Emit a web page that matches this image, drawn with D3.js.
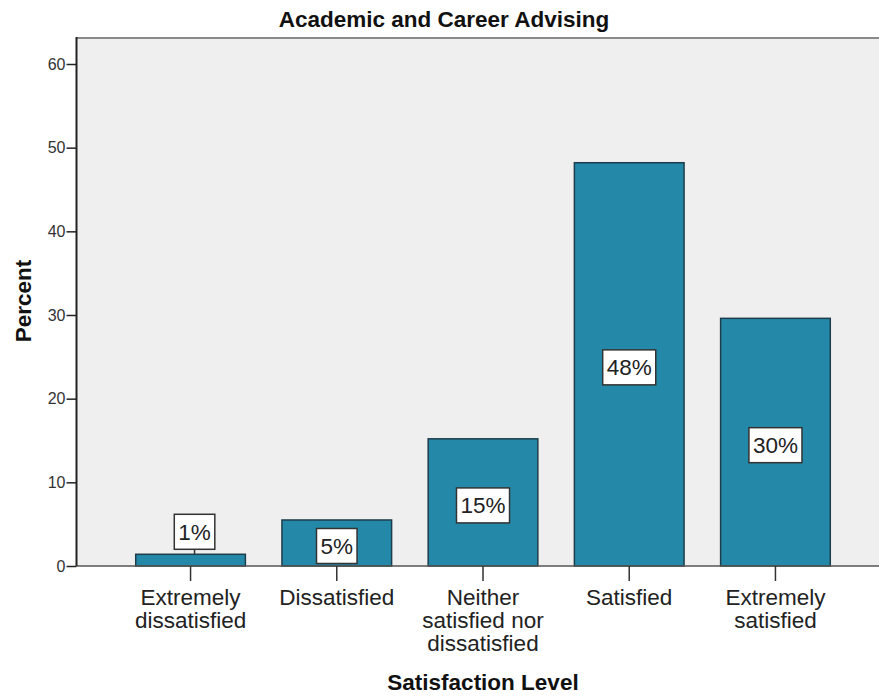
<!DOCTYPE html>
<html>
<head>
<meta charset="utf-8">
<script src="https://cdn.jsdelivr.net/npm/d3@7"></script>
<style>
  body { margin: 0; background: #fff; }
  svg { display: block; font-family: "Liberation Sans", Arial, sans-serif; }
</style>
</head>
<body>
<div id="chart"></div>
<script>
// data
var categories = [
  ["Extremely", "dissatisfied"],
  ["Dissatisfied"],
  ["Neither", "satisfied nor", "dissatisfied"],
  ["Satisfied"],
  ["Extremely", "satisfied"]
];
var percents = [1.4, 5.5, 15.2, 48.2, 29.6];
var pctLabels = ["1%", "5%", "15%", "48%", "30%"];
var yTicks = [0, 10, 20, 30, 40, 50, 60];

var W = 879, H = 698;
var plotL = 76.5, plotR = 889.5, plotT = 38, plotB = 566;

var svg = d3.select("#chart").append("svg")
    .attr("width", W)
    .attr("height", H);

var keys = categories.map(function(d) { return d.join(" "); });

var x = d3.scaleBand()
    .domain(keys)
    .range([plotL, plotR])
    .paddingInner(0.25)
    .paddingOuter(0.405);

var y = d3.scaleLinear()
    .domain([0, 60])
    .range([plotB, 64]);

// plot background
svg.append("rect")
    .attr("x", plotL).attr("y", plotT)
    .attr("width", plotR - plotL).attr("height", plotB - plotT)
    .attr("fill", "#efefef");

svg.append("line")
    .attr("x1", plotL).attr("x2", plotR)
    .attr("y1", plotT).attr("y2", plotT)
    .attr("stroke", "#8a8a8a").attr("stroke-width", 2);

// bars
var data = percents.map(function(v, i) { return {key: keys[i], v: v, label: pctLabels[i]}; });

svg.selectAll(".bar")
    .data(data)
  .enter().append("rect")
    .attr("class", "bar")
    .attr("x", function(d) { return x(d.key); })
    .attr("y", function(d) { return y(d.v); })
    .attr("width", x.bandwidth())
    .attr("height", function(d) { return y(0) - y(d.v); })
    .attr("fill", "#2489a9")
    .attr("stroke", "#1e3d4a")
    .attr("stroke-width", 1.5);

// x axis line
svg.append("line")
    .attr("x1", plotL).attr("x2", plotR)
    .attr("y1", plotB).attr("y2", plotB)
    .attr("stroke", "#555").attr("stroke-width", 1.5);

// y axis
var yAxis = svg.append("g")
    .attr("transform", "translate(" + plotL + ",0)")
    .call(d3.axisLeft(y).tickValues(yTicks).tickSize(10).tickPadding(1));
yAxis.select(".domain").remove();
yAxis.attr("font-family", "Liberation Sans, Arial, sans-serif").attr("font-size", 16);
yAxis.selectAll(".tick line").attr("stroke", "#222").attr("stroke-width", 1.5);
yAxis.selectAll(".tick text").attr("fill", "#333");

svg.append("line")
    .attr("x1", plotL).attr("x2", plotL)
    .attr("y1", plotT - 1).attr("y2", plotB)
    .attr("stroke", "#222").attr("stroke-width", 2);

// x ticks + category labels
var xt = svg.selectAll(".xtick")
    .data(categories)
  .enter().append("g")
    .attr("class", "xtick")
    .attr("transform", function(d, i) { return "translate(" + (x(keys[i]) + x.bandwidth() / 2) + ",0)"; });

xt.append("line")
    .attr("y1", plotB).attr("y2", plotB + 15)
    .attr("stroke", "#333").attr("stroke-width", 1.5);

xt.append("text")
    .attr("text-anchor", "middle")
    .attr("font-size", "22.5px")
    .attr("fill", "#222")
    .selectAll("tspan")
    .data(function(d) { return d; })
  .enter().append("tspan")
    .attr("x", 0)
    .attr("y", function(d, j) { return 605 + j * 23; })
    .text(function(d) { return d; });

// value labels in boxes
var lab = svg.selectAll(".lab")
    .data(data)
  .enter().append("g")
    .attr("class", "lab");

lab.each(function(d) {
  var g = d3.select(this);
  var cx = x(d.key) + x.bandwidth() / 2;
  var h = y(0) - y(d.v);
  var cy, outside = h < 40;
  if (outside) {
    cx += 4;
    cy = y(d.v) - 22.5;
    g.append("line")
        .attr("x1", cx).attr("x2", cx)
        .attr("y1", cy + 17.5).attr("y2", y(d.v))
        .attr("stroke", "#333").attr("stroke-width", 1.5);
  } else {
    cy = y(d.v) + h / 2 + 3;
  }
  var t = g.append("text")
      .attr("x", cx)
      .attr("y", cy + 8)
      .attr("text-anchor", "middle")
      .attr("font-size", "22.5px")
      .attr("fill", "#222")
      .text(d.label);
  var bw = t.node().getComputedTextLength() + 8;
  g.insert("rect", "text")
      .attr("x", cx - bw / 2)
      .attr("y", cy - 17.5)
      .attr("width", bw)
      .attr("height", 35)
      .attr("fill", "#fff")
      .attr("stroke", "#333")
      .attr("stroke-width", 1.5);
});

// titles
svg.append("text")
    .attr("x", 444).attr("y", 27)
    .attr("text-anchor", "middle")
    .attr("font-size", "22.5px")
    .attr("font-weight", "bold")
    .attr("fill", "#111")
    .text("Academic and Career Advising");

svg.append("text")
    .attr("transform", "translate(31,301) rotate(-90)")
    .attr("text-anchor", "middle")
    .attr("font-size", "22.5px")
    .attr("font-weight", "bold")
    .attr("fill", "#111")
    .text("Percent");

svg.append("text")
    .attr("x", 483).attr("y", 690)
    .attr("text-anchor", "middle")
    .attr("font-size", "22.5px")
    .attr("font-weight", "bold")
    .attr("fill", "#111")
    .text("Satisfaction Level");
</script>
</body>
</html>
